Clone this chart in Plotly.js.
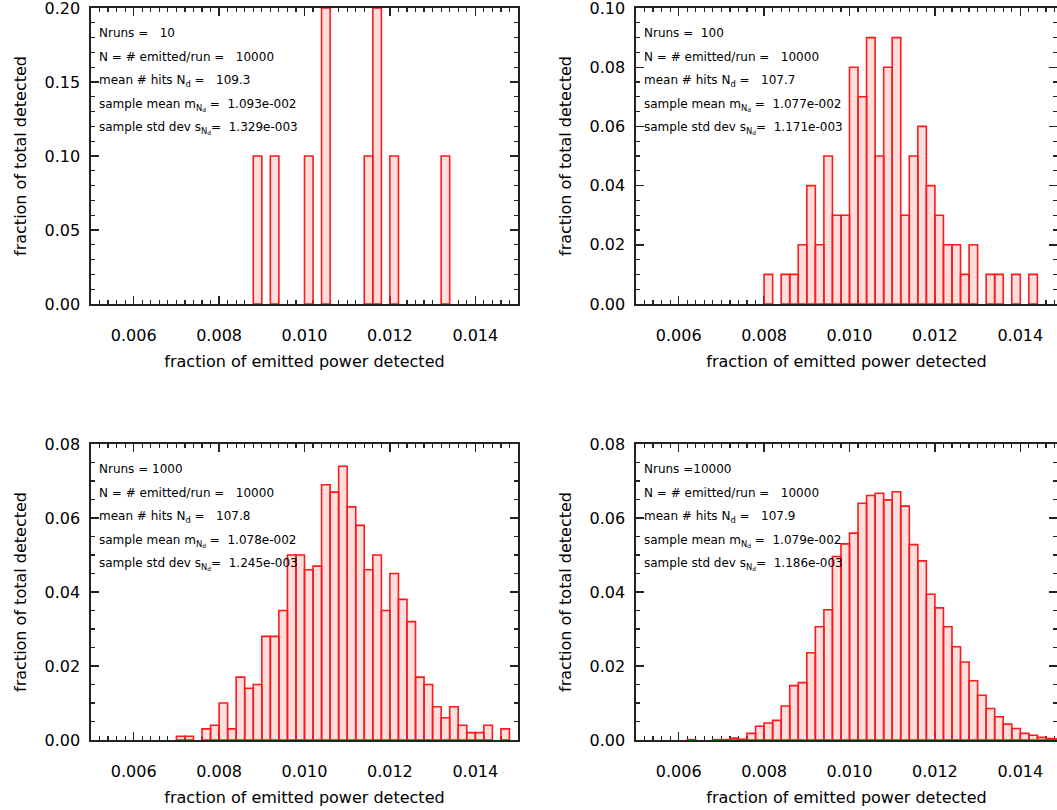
<!DOCTYPE html>
<html>
<head>
<meta charset="utf-8">
<script src="https://cdn.plot.ly/plotly-3.0.1.min.js"></script>
<style>html,body{margin:0;padding:0;background:#fff;}#plot{width:1057px;height:810px;}</style>
</head>
<body>
<div id="plot"></div>
<script>
// ---- data (bin left edges, fraction of runs per bin) ----
const binWidth = 0.0002;

const bins10 = [0.0088, 0.0092, 0.0100, 0.0104, 0.0114, 0.0116, 0.0120, 0.0132];
const frac10 = [0.1, 0.1, 0.1, 0.2, 0.1, 0.2, 0.1, 0.1];

const bins100 = [0.0080, 0.0084, 0.0086, 0.0088, 0.0090, 0.0092, 0.0094, 0.0096, 0.0098, 0.0100,
                 0.0102, 0.0104, 0.0106, 0.0108, 0.0110, 0.0112, 0.0114, 0.0116, 0.0118, 0.0120,
                 0.0122, 0.0124, 0.0126, 0.0128, 0.0132, 0.0134, 0.0138, 0.0142];
const frac100 = [0.01, 0.01, 0.01, 0.02, 0.04, 0.02, 0.05, 0.03, 0.03, 0.08,
                 0.07, 0.09, 0.05, 0.08, 0.09, 0.03, 0.05, 0.06, 0.04, 0.03,
                 0.02, 0.02, 0.01, 0.02, 0.01, 0.01, 0.01, 0.01];

const bins1000 = [0.0070, 0.0072, 0.0076, 0.0078, 0.0080, 0.0082, 0.0084, 0.0086, 0.0088, 0.0090,
                  0.0092, 0.0094, 0.0096, 0.0098, 0.0100, 0.0102, 0.0104, 0.0106, 0.0108, 0.0110,
                  0.0112, 0.0114, 0.0116, 0.0118, 0.0120, 0.0122, 0.0124, 0.0126, 0.0128, 0.0130,
                  0.0132, 0.0134, 0.0136, 0.0138, 0.0140, 0.0142, 0.0146];
const frac1000 = [0.001, 0.001, 0.003, 0.004, 0.010, 0.003, 0.017, 0.014, 0.015, 0.028,
                  0.028, 0.035, 0.050, 0.050, 0.046, 0.047, 0.069, 0.067, 0.074, 0.063,
                  0.058, 0.046, 0.050, 0.035, 0.045, 0.038, 0.032, 0.017, 0.015, 0.009,
                  0.006, 0.009, 0.004, 0.002, 0.002, 0.004, 0.003];

const bins10000 = [0.0062, 0.0068, 0.0070, 0.0072, 0.0074, 0.0076, 0.0078, 0.0080, 0.0082, 0.0084,
                   0.0086, 0.0088, 0.0090, 0.0092, 0.0094, 0.0096, 0.0098, 0.0100, 0.0102, 0.0104,
                   0.0106, 0.0108, 0.0110, 0.0112, 0.0114, 0.0116, 0.0118, 0.0120, 0.0122, 0.0124,
                   0.0126, 0.0128, 0.0130, 0.0132, 0.0134, 0.0136, 0.0138, 0.0140, 0.0142, 0.0144,
                   0.0146, 0.0148];
const frac10000 = [0.0001, 0.0001, 0.0001, 0.0005, 0.0002, 0.0018, 0.0037, 0.0046, 0.0053, 0.0092,
                   0.0147, 0.0155, 0.0236, 0.0306, 0.0352, 0.0496, 0.0530, 0.0559, 0.0640, 0.0661,
                   0.0667, 0.0649, 0.0671, 0.0632, 0.0528, 0.0484, 0.0394, 0.0357, 0.0306, 0.0252,
                   0.0211, 0.0160, 0.0121, 0.0085, 0.0063, 0.0043, 0.0031, 0.0018, 0.0013, 0.0007,
                   0.0004, 0.0003];

// ---- statistics text ----
const nRuns = [10, 100, 1000, 10000];
const nEmitted = 10000;
const meanHits = ['109.3', '107.7', '107.8', '107.9'];
const sampleMean = ['1.093e-002', '1.077e-002', '1.078e-002', '1.079e-002'];
const sampleStd = ['1.329e-003', '1.171e-003', '1.245e-003', '1.186e-003'];

const yMax = [0.20, 0.10, 0.08, 0.08];
const yDtick = [0.05, 0.02, 0.02, 0.02];
const yMinor = [0.01, 0.005, 0.005, 0.005];

const allBins = [bins10, bins100, bins1000, bins10000];
const allFrac = [frac10, frac100, frac1000, frac10000];

// ---- layout geometry (pixels on the 1057x810 page) ----
const W = 1057, H = 810;
const colPx = [[91, 518], [636, 1057]];
const rowPx = [[8, 304], [444, 740]];
const pxPerUnit = 427 / 0.010;   // x scale: 0.005..0.015 over 427 px

const FONT = 'DejaVu Sans, Liberation Sans, Arial, sans-serif';
const NB = '\u00a0';

const data = [];
const layout = {
  width: W, height: H,
  margin: {l: 0, r: 0, t: 0, b: 0},
  paper_bgcolor: '#fff', plot_bgcolor: '#fff',
  showlegend: false,
  bargap: 0,
  font: {family: FONT, color: '#000', size: 16},
  annotations: []
};

for (let i = 0; i < 4; i++) {
  const col = i % 2, row = Math.floor(i / 2);
  const xs = i === 0 ? '' : String(i + 1);
  const [x0, x1] = colPx[col];
  const [y0, y1] = rowPx[row];
  const xmax = 0.005 + (x1 - x0) / pxPerUnit;

  data.push({
    type: 'bar',
    x: allBins[i],
    y: allFrac[i],
    width: binWidth,
    offset: 0,
    xaxis: 'x' + xs, yaxis: 'y' + xs,
    marker: {color: 'rgba(255,0,0,0.13)', line: {color: 'rgb(255,25,25)', width: 1.6}},
    hoverinfo: 'skip'
  });

  const axCommon = {
    showline: true, mirror: 'allticks', linecolor: '#222', linewidth: 1.6,
    ticks: 'inside', tickcolor: '#222', tickwidth: 1.4, ticklen: 8,
    showgrid: false, zeroline: false, layer: 'below traces',
    ticklabeloverflow: 'allow',
    tickfont: {family: FONT, size: 16, color: '#000'},
    fixedrange: true
  };

  layout['xaxis' + xs] = Object.assign({}, axCommon, {
    domain: [x0 / W, x1 / W],
    anchor: 'y' + xs,
    range: [0.005, xmax],
    tick0: 0.006, dtick: 0.002, tickformat: '.3f',
    ticklabelstandoff: 16,
    minor: {dtick: 0.0002, tick0: 0.006, ticks: 'inside', ticklen: 4, tickcolor: '#222', tickwidth: 1.2},
    title: {text: 'fraction of emitted power detected', font: {family: FONT, size: 16, color: '#000'}, standoff: 12}
  });
  layout['yaxis' + xs] = Object.assign({}, axCommon, {
    domain: [1 - y1 / H, 1 - y0 / H],
    anchor: 'x' + xs,
    range: [0, yMax[i] * 1.00001],
    tick0: 0, dtick: yDtick[i], tickformat: '.2f',
    ticklabelstandoff: 6,
    minor: {dtick: yMinor[i], tick0: 0, ticks: 'inside', ticklen: 4, tickcolor: '#222', tickwidth: 1.2},
    title: {text: 'fraction of total detected', font: {family: FONT, size: 16, color: '#000'}, standoff: 14}
  });

  const lines = [
    'Nruns =' + String(nRuns[i]).padStart(5, NB),
    'N = # emitted/run =' + NB + NB + NB + nEmitted,
    'mean # hits N<sub>d</sub> =' + NB + NB + NB + meanHits[i],
    'sample mean m<sub>N<sub>d</sub></sub> =' + NB + NB + sampleMean[i],
    'sample std dev s<sub>N<sub>d</sub></sub>=' + NB + NB + sampleStd[i]
  ];
  const lineY = [25, 49, 73, 97, 120];
  lines.forEach((t, k) => {
    layout.annotations.push({
      xref: 'paper', yref: 'paper',
      x: (x0 + 6) / W, y: 1 - (y0 + lineY[k]) / H,
      xanchor: 'left', yanchor: 'middle',
      text: t, showarrow: false,
      font: {family: FONT, size: 12, color: '#000'}
    });
  });
}

Plotly.newPlot('plot', data, layout, {displayModeBar: false, staticPlot: true});
</script>
</body>
</html>
